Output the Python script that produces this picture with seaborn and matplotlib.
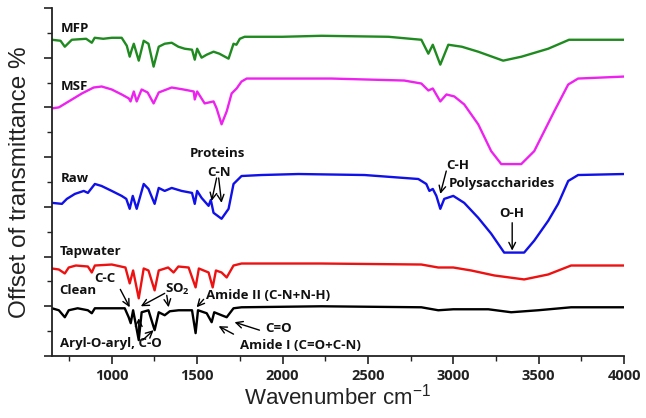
import numpy as np
import pandas as pd
import matplotlib
matplotlib.use("Agg")
import matplotlib.pyplot as plt
from matplotlib.ticker import MultipleLocator
import seaborn as sns

# ---------------- data ----------------
samples = ["MFP", "MSF", "Raw", "Tapwater", "Clean"]
colors = ["#1f8a1f", "#ee22ee", "#1010e8", "#ee1111", "#000000"]

mfp_wn = [650, 700, 725, 766, 850, 883, 900, 950, 1000, 1058, 1088, 1105, 1117, 1129, 1158, 1187,
          1215, 1245, 1275, 1310, 1351, 1390, 1427, 1470, 1486, 1500, 1526, 1556, 1596, 1630, 1684,
          1713, 1730, 1750, 1778, 2000, 2228, 2620, 2813, 2854, 2880, 2924, 2971, 3050, 3146, 3292,
          3400, 3556, 3678, 4000]
mfp_val = [318, 317, 311, 318, 319, 315, 320, 319, 320, 320, 312, 301, 308, 314, 297, 317,
           314, 291, 311, 314, 315, 311, 309, 308, 298, 309, 300, 303, 306, 304, 299,
           314, 313, 319, 321, 321, 322, 321, 318, 304, 313, 293, 313, 311, 306, 297,
           301, 309, 318, 318]

msf_wn = [650, 690, 748, 825, 894, 941, 1000, 1058, 1100, 1110, 1129, 1146, 1175, 1210, 1245, 1275,
          1351, 1420, 1480, 1486, 1500, 1544, 1596, 1614, 1643, 1673, 1702, 1731, 1760, 1790, 2287,
          2713, 2813, 2854, 2880, 2924, 2960, 3006, 3064, 3146, 3222, 3281, 3398, 3474, 3591, 3673,
          3731, 4000]
msf_val = [249, 250, 256, 264, 270, 271, 268, 263, 259, 256, 266, 256, 268, 265, 254, 265,
           270, 268, 266, 258, 266, 254, 256, 249, 233, 246, 264, 269, 276, 279, 279,
           277, 274, 267, 269, 256, 263, 261, 253, 233, 206, 193, 193, 206, 246, 273,
           279, 281]

raw_wn = [650, 708, 737, 784, 836, 860, 901, 940, 1000, 1058, 1085, 1105, 1123, 1146, 1187, 1215,
          1251, 1275, 1310, 1351, 1409, 1470, 1486, 1500, 1526, 1567, 1580, 1596, 1643, 1684, 1713,
          1760, 1877, 2094, 2480, 2795, 2842, 2860, 2880, 2901, 2924, 2947, 3000, 3064, 3146, 3222,
          3298, 3415, 3474, 3556, 3614, 3673, 3731, 4000]
raw_val = [154, 153, 158, 163, 166, 164, 173, 171, 166, 161, 158, 148, 161, 148, 173, 168,
           153, 169, 166, 169, 166, 164, 153, 166, 159, 151, 157, 144, 138, 148, 173,
           181, 182, 183, 182, 178, 173, 166, 168, 161, 148, 158, 161, 154, 139, 123,
           104, 104, 116, 136, 153, 176, 182, 183]

tap_wn = [650, 690, 725, 748, 790, 860, 883, 901, 1000, 1080, 1105, 1125, 1158, 1187, 1215, 1251,
          1275, 1330, 1362, 1390, 1450, 1491, 1510, 1567, 1591, 1610, 1643, 1673, 1713, 1760, 2228,
          2813, 2912, 3000, 3105, 3240, 3415, 3556, 3690, 4000]
tap_val = [88, 87, 83, 89, 91, 90, 84, 91, 92, 89, 73, 86, 58, 88, 86, 66,
           86, 89, 84, 90, 89, 69, 88, 84, 69, 86, 84, 79, 91, 93, 93,
           92, 89, 89, 86, 81, 77, 82, 91, 91]

clean_wn = [650, 690, 725, 748, 800, 860, 883, 901, 1000, 1076, 1099, 1111, 1125, 1158, 1175, 1215,
            1251, 1275, 1310, 1340, 1392, 1470, 1491, 1505, 1556, 1585, 1600, 1643, 1673, 1713, 1760,
            2228, 2813, 2912, 3000, 3205, 3339, 3497, 3690, 4000]
clean_val = [48, 46, 39, 46, 48, 46, 43, 48, 48, 48, 39, 33, 46, 16, 44, 46,
             26, 44, 41, 45, 46, 46, 23, 46, 43, 34, 44, 41, 39, 48, 49,
             50, 49, 46, 47, 47, 44, 46, 49, 49]

xticks = [1000, 1500, 2000, 2500, 3000, 3500, 4000]

# ---------------- build table ----------------
series = {"MFP": (mfp_wn, mfp_val), "MSF": (msf_wn, msf_val), "Raw": (raw_wn, raw_val),
          "Tapwater": (tap_wn, tap_val), "Clean": (clean_wn, clean_val)}
frames = []
for name, (wn, val) in series.items():
    frames.append(pd.DataFrame({"wavenumber": wn, "offset": val, "sample": name}))
df = pd.concat(frames, ignore_index=True)

# ---------------- plot ----------------
sns.set_theme(style="ticks")
plt.rcParams["font.family"] = ["Liberation Sans", "DejaVu Sans"]
plt.rcParams["mathtext.default"] = "regular"

fig = plt.figure(figsize=(6.46, 4.18), dpi=100)
ax = fig.add_axes([0.0805, 0.1483, 0.8855, 0.8327])

sns.lineplot(data=df, x="wavenumber", y="offset", hue="sample", hue_order=samples,
             palette=dict(zip(samples, colors)), estimator=None, sort=False,
             linewidth=1.7, legend=False, ax=ax)

ax.set_xlim(650, 4000)
ax.set_ylim(0, 350)
ax.set_xticks(xticks)
ax.set_xticklabels([str(t) for t in xticks], fontsize=10.5, fontweight="bold",
                   family=["Open Sans", "DejaVu Sans"], color="#222222")
ax.xaxis.set_minor_locator(MultipleLocator(250))
ax.yaxis.set_major_locator(MultipleLocator(50))
ax.yaxis.set_minor_locator(MultipleLocator(25))
ax.set_yticklabels([])
ax.tick_params(axis="both", which="major", direction="out", length=6, width=1.2, color="#222222", pad=3)
ax.tick_params(axis="both", which="minor", direction="out", length=3.5, width=1.0, color="#222222")
for s in ["top", "right"]:
    ax.spines[s].set_visible(False)
for s in ["left", "bottom"]:
    ax.spines[s].set_linewidth(1.3)
    ax.spines[s].set_color("#222222")

ax.set_xlabel("Wavenumber cm$^{-1}$", fontsize=16, labelpad=1, color="#222222")
ax.set_ylabel("Offset of transmittance %", fontsize=17.5, labelpad=6, color="#222222")

lab = dict(family=["Open Sans", "DejaVu Sans"], fontweight="bold", fontsize=9.5, color="#111111")

# curve labels
ax.text(702, 329, "MFP", ha="left", va="center", **lab)
ax.text(702, 271, "MSF", ha="left", va="center", **lab)
ax.text(702, 178, "Raw", ha="left", va="center", **lab)
ax.text(696, 105, "Tapwater", ha="left", va="center", **lab)
ax.text(690, 66, "Clean", ha="left", va="center", **lab)

# band annotations
arrow = dict(arrowstyle="->", color="black", lw=1.0, shrinkA=0, shrinkB=0)
ax.text(1620, 204, "Proteins", ha="center", va="center", **lab)
ax.text(1626, 185, "C-N", ha="center", va="center", **lab)
ax.annotate("", xy=(1585, 156), xytext=(1614, 179), arrowprops=arrow)
ax.annotate("", xy=(1643, 154), xytext=(1626, 179), arrowprops=arrow)

ax.text(3029, 192, "C-H", ha="center", va="center", **lab)
ax.annotate("", xy=(2924, 163), xytext=(2959, 186), arrowprops=arrow)
ax.text(2971, 173, "Polysaccharides", ha="left", va="center", **lab)

ax.text(3345, 143, "O-H", ha="center", va="center", **lab)
ax.annotate("", xy=(3345, 106), xytext=(3345, 134), arrowprops=arrow)

ax.text(900, 78, "C-C", ha="left", va="center", **lab)
ax.annotate("", xy=(1105, 49), xytext=(1050, 67), arrowprops=arrow)

ax.text(1386, 67, "SO$_2$", ha="center", va="center", **lab)
ax.annotate("", xy=(1170, 50), xytext=(1310, 63), arrowprops=arrow)
ax.annotate("", xy=(1333, 49), xytext=(1322, 61), arrowprops=arrow)

ax.text(1550, 61, "Amide II (C-N+N-H)", ha="left", va="center", **lab)
ax.annotate("", xy=(1497, 49), xytext=(1538, 57), arrowprops=arrow)

ax.text(1977, 28, "C=O", ha="center", va="center", **lab)
ax.annotate("", xy=(1719, 34), xytext=(1865, 26), arrowprops=arrow)

ax.text(1749, 11, "Amide I (C=O+C-N)", ha="left", va="center", **lab)
ax.annotate("", xy=(1626, 30), xytext=(1713, 22), arrowprops=arrow)

ax.text(696, 13, "Aryl-O-aryl, C-O", ha="left", va="center", **lab)
ax.annotate("", xy=(1158, 38), xytext=(1158, 16), arrowprops=arrow)
ax.annotate("", xy=(1245, 26), xytext=(1181, 16), arrowprops=arrow)

fig.savefig("out.png", dpi=100)
